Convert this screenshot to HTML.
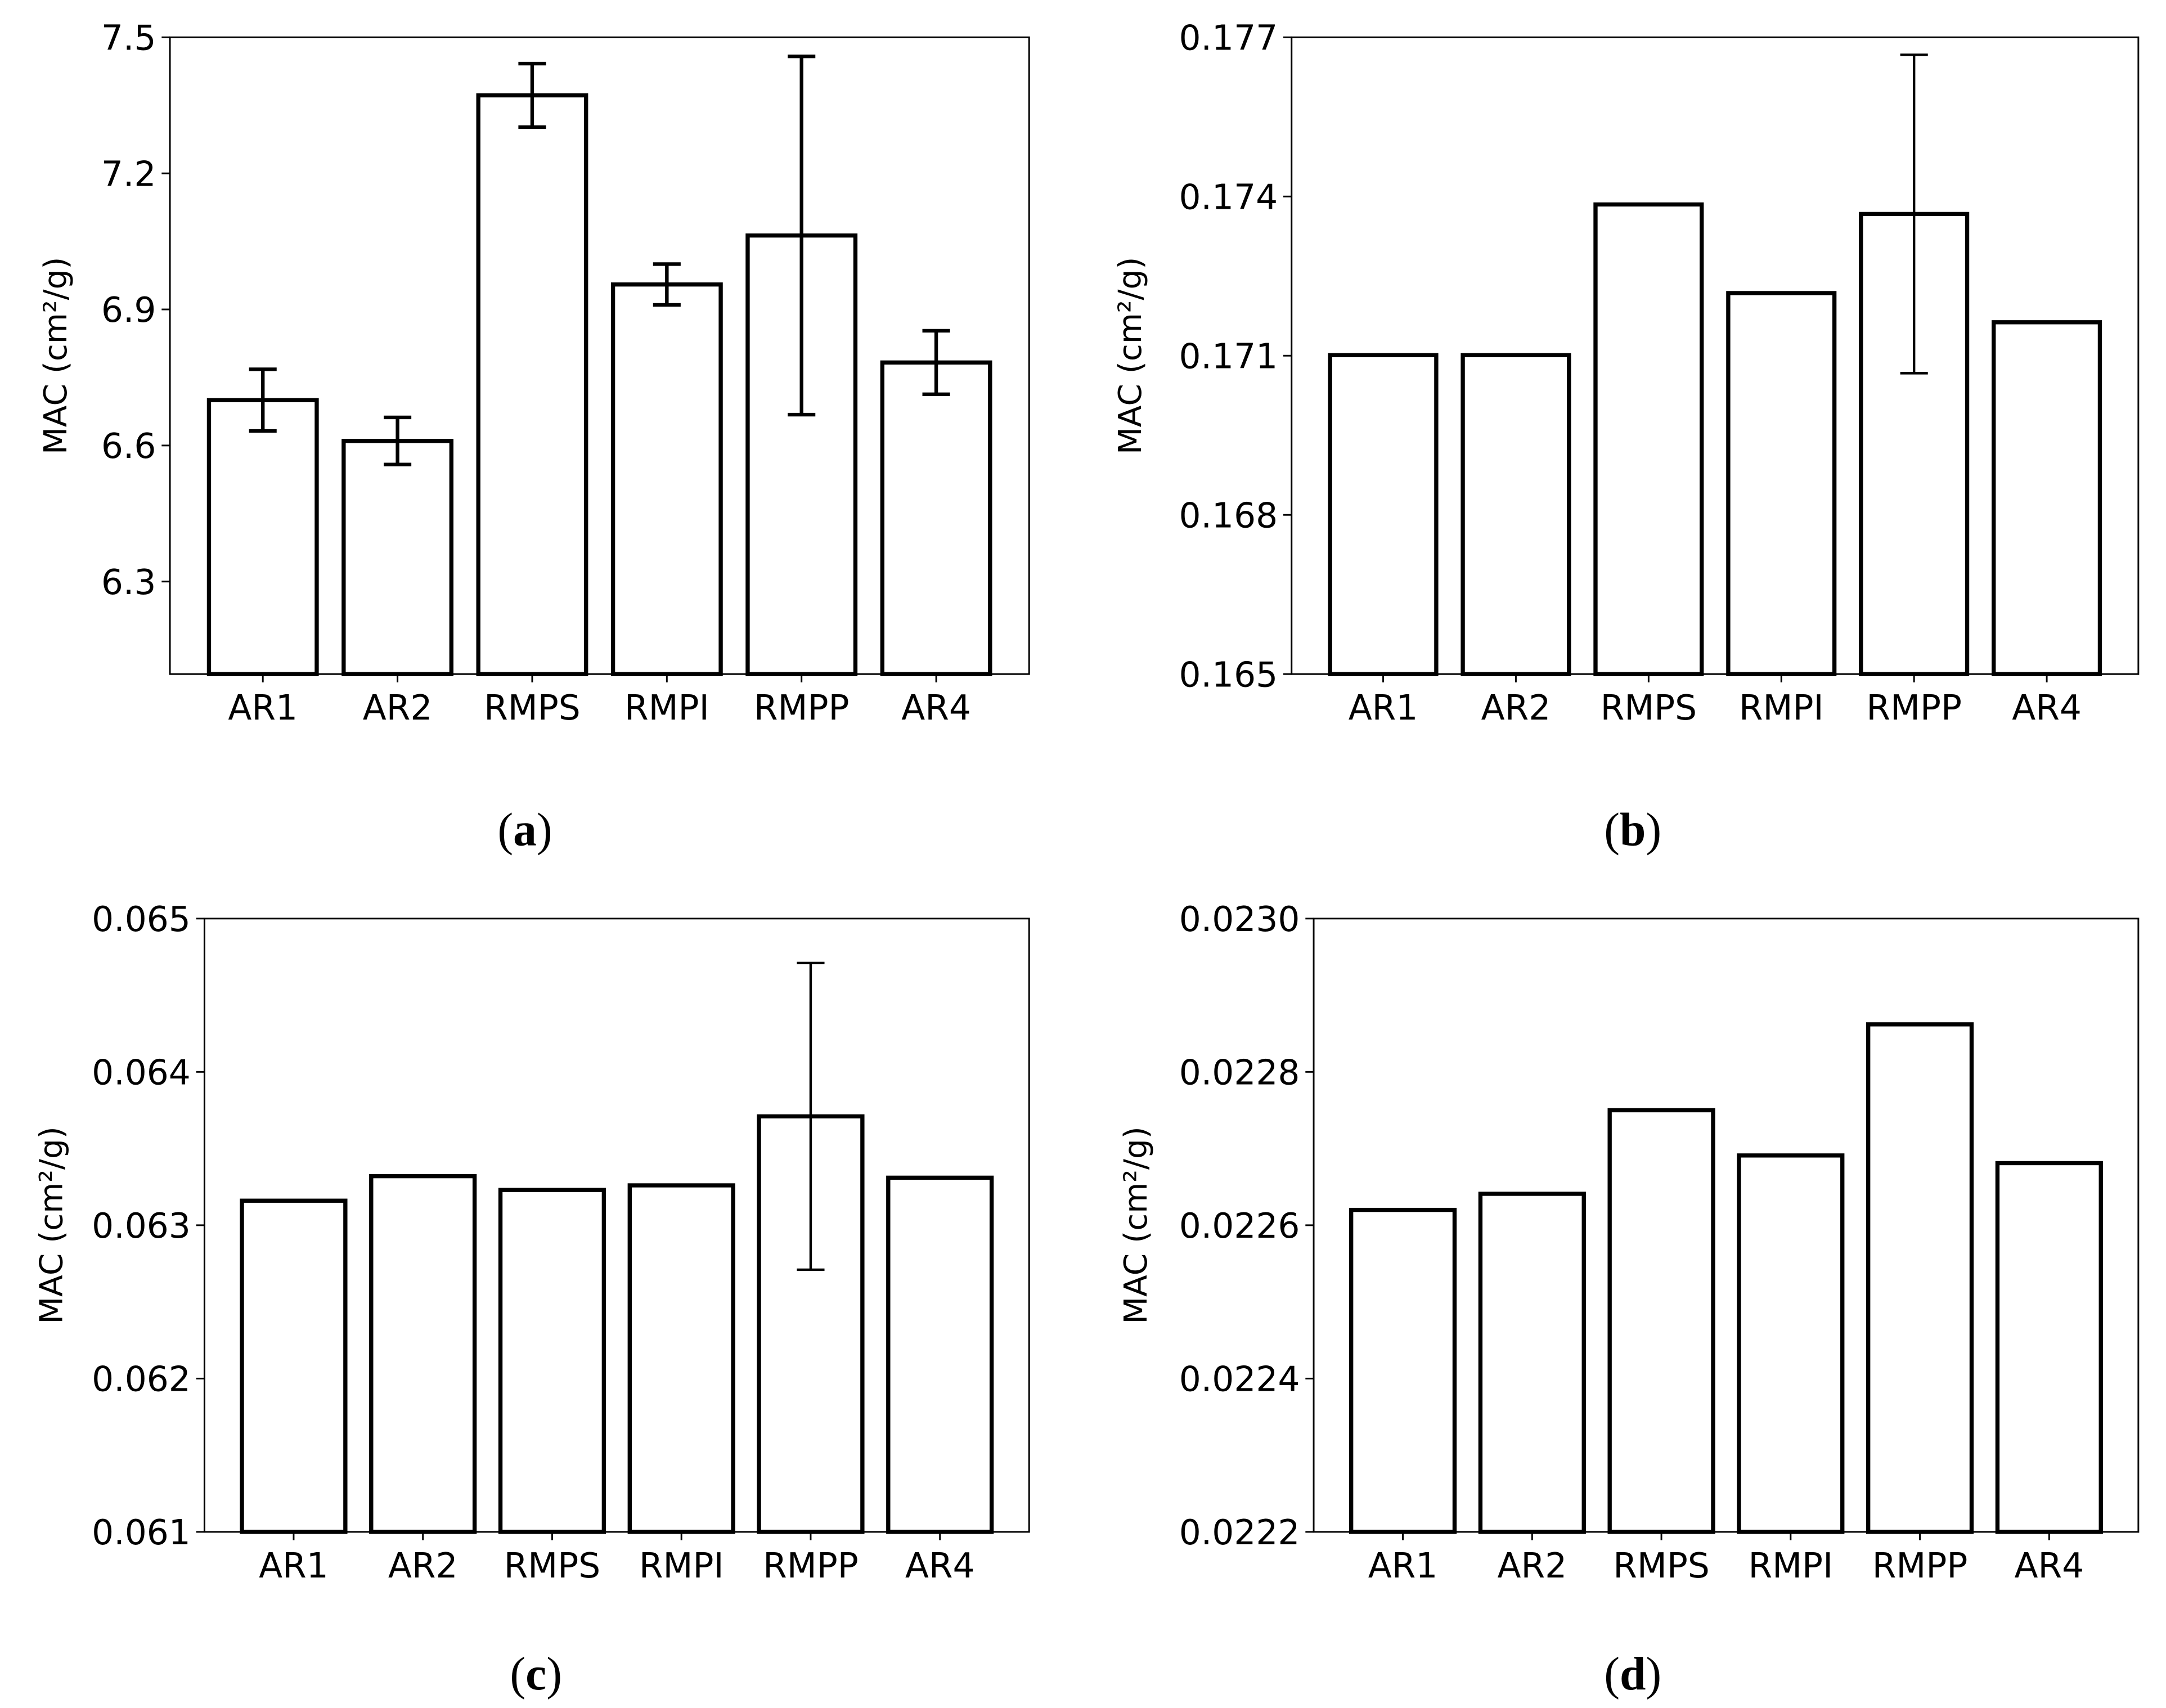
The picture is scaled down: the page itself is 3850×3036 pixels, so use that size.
<!DOCTYPE html>
<html><head><meta charset="utf-8"><style>
html,body{margin:0;padding:0;background:#fff;}
svg{display:block;}
text{font-family:"DejaVu Sans","Liberation Sans",sans-serif;fill:#000;}
.cap{font-family:"Liberation Serif",serif;font-size:34px;}
</style></head><body>
<svg id="fig" width="3850" height="3036" viewBox="0 0 1568 1236.5" xmlns="http://www.w3.org/2000/svg">
<rect width="1568" height="1236.5" fill="#fff"/>
</svg>
<script>
const categories = ["AR1","AR2","RMPS","RMPI","RMPP","AR4"];
const valuesA = [6.70, 6.61, 7.372, 6.955, 7.063, 6.783];
const errorsA = [0.068, 0.052, 0.07, 0.045, 0.395, 0.07];
const ticksA = ["6.3","6.6","6.9","7.2","7.5"];
const valuesB = [0.17101, 0.17101, 0.17385, 0.17218, 0.17367, 0.17163];
const errorsB = [0, 0, 0, 0, 0.003, 0];
const ticksB = ["0.165","0.168","0.171","0.174","0.177"];
const valuesC = [0.06316, 0.06332, 0.06323, 0.06326, 0.06371, 0.06331];
const errorsC = [0, 0, 0, 0, 0.001, 0];
const ticksC = ["0.061","0.062","0.063","0.064","0.065"];
const valuesD = [0.02262, 0.022641, 0.02275, 0.022691, 0.022862, 0.022681];
const errorsD = [0, 0, 0, 0, 0, 0];
const ticksD = ["0.0222","0.0224","0.0226","0.0228","0.0230"];

const NS = "http://www.w3.org/2000/svg";
const svg = document.getElementById('fig');
function mk(tag, attrs, parent){
  const e = document.createElementNS(NS, tag);
  for (const k in attrs) e.setAttribute(k, attrs[k]);
  (parent||svg).appendChild(e);
  return e;
}
const panels = [
  {id:'a', vals:valuesA, errs:errorsA, ticks:ticksA, ymin:6.096, ymax:7.5, box:[123,27,745,488], ylx:48, cap:[380,601], ew:2.6},
  {id:'b', vals:valuesB, errs:errorsB, ticks:ticksB, ymin:0.165, ymax:0.177, box:[935,27,1548,488], ylx:826, cap:[1182,601], ew:1.8},
  {id:'c', vals:valuesC, errs:errorsC, ticks:ticksC, ymin:0.061, ymax:0.065, box:[148,665,745,1109], ylx:45, cap:[388,1212], ew:1.8},
  {id:'d', vals:valuesD, errs:errorsD, ticks:ticksD, ymin:0.0222, ymax:0.0230, box:[951,665,1548,1109], ylx:830, cap:[1182,1212], ew:1.8}
];
panels.forEach(p=>{
  const [L,T,R,B] = p.box;
  const g = mk('g',{});
  
  
  const y = v => B - (v - p.ymin)/(p.ymax - p.ymin)*(B - T);
  const x = i => L + (i + 0.69)/6.38*(R - L);
  const bw = 0.8/6.38*(R - L);
  p.vals.forEach((v,i)=>{
    const r = mk('rect',{x:x(i)-bw/2, y:y(v), width:bw, height:B-y(v), fill:'#fff', stroke:'#000', 'stroke-width':3}, g);
    
    
    const e = p.errs[i];
    if (e>0){
      const eg = mk('g',{stroke:'#000','stroke-width':p.ew}, g);
      
      
      mk('line',{x1:x(i),x2:x(i),y1:y(v+e),y2:y(v-e)},eg);
      mk('line',{x1:x(i)-10,x2:x(i)+10,y1:y(v+e),y2:y(v+e)},eg);
      mk('line',{x1:x(i)-10,x2:x(i)+10,y1:y(v-e),y2:y(v-e)},eg);
    }
    const t = mk('text',{x:x(i), y:B+33, 'text-anchor':'middle','font-size':25}, g);
    t.textContent = categories[i];
    
    
    mk('line',{x1:x(i),x2:x(i),y1:B,y2:B+6,stroke:'#000','stroke-width':1.2},g);
  });
  const ax = mk('rect',{x:L,y:T,width:R-L,height:B-T,fill:'none',stroke:'#000','stroke-width':1.2},g);
  
  
  p.ticks.forEach(tl=>{
    const yy = y(parseFloat(tl));
    mk('line',{x1:L-6,x2:L,y1:yy,y2:yy,stroke:'#000','stroke-width':1.2},g);
    const t = mk('text',{x:L-10, y:yy+9, 'text-anchor':'end','font-size':25}, g);
    t.textContent = tl;
    
    
  });
  const yl = mk('text',{x:p.ylx, y:(T+B)/2, 'text-anchor':'middle','font-size':23, transform:'rotate(-90 '+p.ylx+' '+((T+B)/2)+')'}, g);
  yl.textContent = 'MAC (cm²/g)';
  
  
  const cap = mk('text',{x:p.cap[0], y:p.cap[1]+11, 'text-anchor':'middle', class:'cap'}, g);
  cap.innerHTML = '(<tspan font-weight="bold">'+p.id+'</tspan>)';
  
  
});
</script>
</body></html>
